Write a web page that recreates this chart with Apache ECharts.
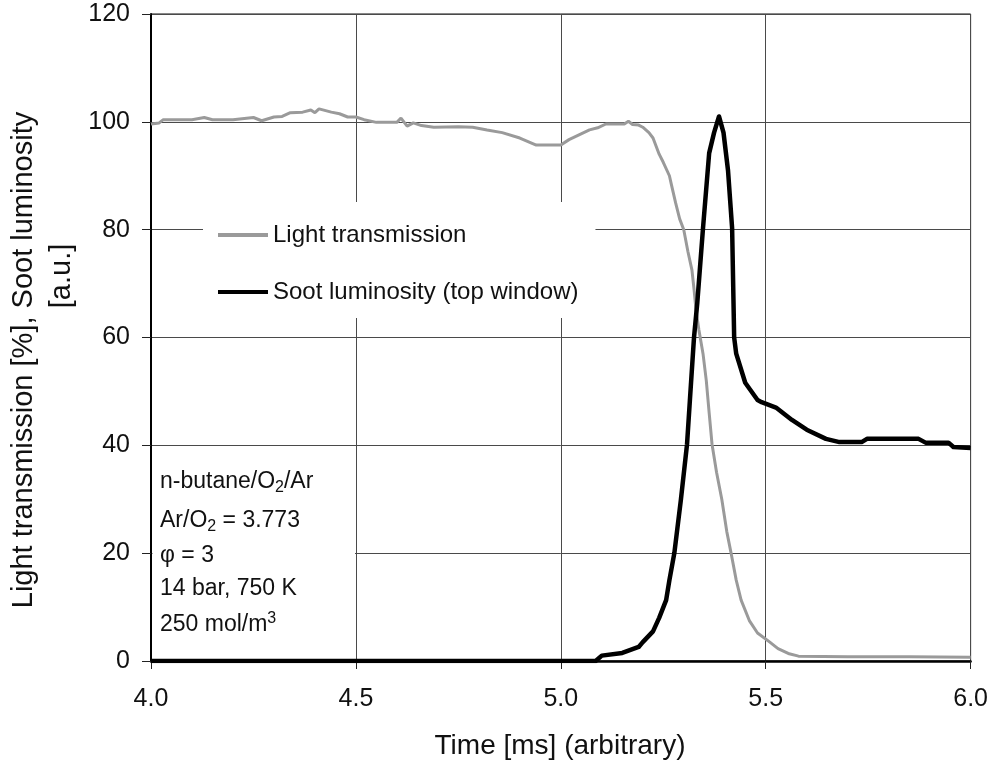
<!DOCTYPE html>
<html>
<head>
<meta charset="utf-8">
<script src="https://cdn.jsdelivr.net/npm/echarts@6/dist/echarts.min.js"></script>
<style>
  html, body { margin: 0; padding: 0; background: #fff; }
  #chart { width: 991px; height: 767px; }
</style>
</head>
<body>
<div id="chart"></div>
<script>
// Light transmission signal [%] versus time [ms]
const lightTime = [4.00, 4.02, 4.03, 4.10, 4.13, 4.15, 4.20, 4.25, 4.27, 4.30, 4.32, 4.34, 4.37, 4.39, 4.40, 4.41, 4.44, 4.46, 4.48, 4.50,
  4.52, 4.55, 4.60, 4.61, 4.625, 4.64, 4.66, 4.69, 4.75, 4.785, 4.82, 4.857, 4.90, 4.94, 5.00, 5.02, 5.07, 5.09, 5.11, 5.155,
  5.165, 5.175, 5.19, 5.20, 5.215, 5.225, 5.24, 5.25, 5.265, 5.27, 5.28, 5.29, 5.30, 5.31, 5.32, 5.325, 5.33, 5.337, 5.347, 5.355,
  5.362, 5.369, 5.38, 5.393, 5.405, 5.415, 5.428, 5.44, 5.46, 5.48, 5.51, 5.53, 5.555, 5.58, 5.70, 5.85, 6.00];
const lightValue = [99.6, 99.8, 100.4, 100.4, 100.8, 100.4, 100.4, 100.8, 100.2, 100.9, 101.0, 101.7, 101.8, 102.2, 101.7, 102.4, 101.8, 101.5, 100.9, 100.9,
  100.4, 99.9, 99.9, 100.7, 99.2, 99.8, 99.3, 99.0, 99.1, 99.0, 98.5, 98.0, 97.0, 95.7, 95.7, 96.7, 98.5, 98.9, 99.6, 99.6,
  100.1, 99.5, 99.4, 99.0, 98.0, 97.0, 94.0, 92.5, 90.0, 88.3, 85.0, 82.0, 80.0, 76.0, 72.5, 69.0, 65.0, 61.4, 57.0, 52.0,
  46.0, 40.2, 35.0, 29.9, 24.0, 20.2, 15.0, 11.3, 7.5, 5.2, 3.5, 2.3, 1.4, 0.9, 0.8, 0.8, 0.7];

// Soot luminosity (top window) [a.u.] versus time [ms]
const sootTime = [4.00, 5.085, 5.10, 5.15, 5.19, 5.20, 5.225, 5.24, 5.257, 5.265, 5.277, 5.293, 5.308, 5.315, 5.325, 5.333, 5.347, 5.362, 5.374, 5.386,
  5.397, 5.408, 5.418, 5.423, 5.428, 5.45, 5.48, 5.49, 5.525, 5.564, 5.60, 5.647, 5.68, 5.734, 5.747, 5.873, 5.89, 5.946, 5.958, 6.00];
const sootValue = [0, 0, 1.0, 1.5, 2.6, 3.5, 5.5, 8.0, 11.3, 15.0, 20.0, 29.9, 40.2, 48.4, 60.0, 66.4, 80.3, 94.2, 98.0, 101.0,
  98.0, 91.0, 80.3, 60.0, 57.0, 51.6, 48.4, 48.0, 47.0, 44.7, 42.9, 41.2, 40.6, 40.6, 41.2, 41.2, 40.5, 40.5, 39.7, 39.5];

const seriesNames = ['Light transmission', 'Soot luminosity (top window)'];
const seriesColors = ['#9a9a9a', '#000000'];
const conditionLines = ['n-butane/O{sub|2}/Ar', 'Ar/O{sub|2} = 3.773', 'φ = 3', '14 bar, 750 K', '250 mol/m{sup|3}'];
const yTitleLines = ['Light transmission [%], Soot luminosity', '[a.u.]'];
const xTitle = 'Time [ms] (arbitrary)';

const zip = (xs, ys) => xs.map((x, i) => [x, ys[i]]);
const FONT = '"Liberation Sans", Arial, Helvetica, sans-serif';

const chart = echarts.init(document.getElementById('chart'), null, { renderer: 'canvas' });

const condY = [482, 521, 556, 589, 625];
const graphics = [
  // white panel behind the experimental-conditions note
  { type: 'rect', z: 1, shape: { x: 152.5, y: 452, width: 202.5, height: 207.5 }, style: { fill: '#fff' } },
  ...conditionLines.map((t, i) => ({
    type: 'text', z: 5, x: 160, y: condY[i],
    style: {
      text: t, fill: '#111', font: '23px ' + FONT, verticalAlign: 'middle', align: 'left',
      rich: {
        sub: { fontSize: 16, fontFamily: FONT, fill: '#111', padding: [12, 0, 0, 0] },
        sup: { fontSize: 16, fontFamily: FONT, fill: '#111', padding: [0, 0, 12, 0] }
      }
    }
  })),
  // axis titles
  { type: 'text', x: 24, y: 360, rotation: Math.PI / 2,
    style: { text: yTitleLines[0], fill: '#111', font: '29px ' + FONT, align: 'center', verticalAlign: 'middle' } },
  { type: 'text', x: 62, y: 276, rotation: Math.PI / 2,
    style: { text: yTitleLines[1], fill: '#111', font: '29px ' + FONT, align: 'center', verticalAlign: 'middle' } },
  { type: 'text', x: 560, y: 746,
    style: { text: xTitle, fill: '#111', font: '28px ' + FONT, align: 'center', verticalAlign: 'middle' } }
];

chart.setOption({
  animation: false,
  backgroundColor: '#fff',
  grid: { left: 151, right: 19, top: 14, bottom: 106, show: true, borderColor: '#111', borderWidth: 1 },
  legend: {
    data: seriesNames.map(n => ({ name: n, icon: 'rect' })),
    orient: 'vertical',
    left: 203, top: 202,
    padding: [20, 17, 13, 15],
    itemGap: 31,
    itemWidth: 50, itemHeight: 4,
    backgroundColor: '#fff',
    textStyle: { fontFamily: FONT, fontSize: 24, color: '#111', lineHeight: 26 }
  },
  xAxis: {
    type: 'value', min: 4, max: 6, interval: 0.5,
    axisLine: { show: true, onZero: false, lineStyle: { color: '#000', width: 2.5 } },
    axisTick: { show: true, inside: false, length: 8, lineStyle: { color: '#222', width: 1 } },
    axisLabel: { margin: 26, fontFamily: FONT, fontSize: 25, color: '#111', formatter: v => v.toFixed(1) },
    splitLine: { show: true, lineStyle: { color: '#4a4a4a', width: 1 } }
  },
  yAxis: {
    type: 'value', min: 0, max: 120, interval: 20,
    axisLine: { show: true, lineStyle: { color: '#000', width: 2 } },
    axisTick: { show: true, inside: false, length: 9, lineStyle: { color: '#222', width: 1 } },
    axisLabel: { margin: 21, fontFamily: FONT, fontSize: 25, color: '#111' },
    splitLine: { show: true, lineStyle: { color: '#4a4a4a', width: 1 } }
  },
  series: [
    {
      name: seriesNames[0], type: 'line', z: 3,
      data: zip(lightTime, lightValue),
      showSymbol: false, symbol: 'none',
      lineStyle: { color: seriesColors[0], width: 3 },
      itemStyle: { color: seriesColors[0] }
    },
    {
      name: seriesNames[1], type: 'line', z: 4,
      data: zip(sootTime, sootValue),
      showSymbol: false, symbol: 'none',
      lineStyle: { color: seriesColors[1], width: 4.5, join: 'round' },
      itemStyle: { color: seriesColors[1] }
    }
  ],
  graphic: graphics
});
</script>
</body>
</html>
